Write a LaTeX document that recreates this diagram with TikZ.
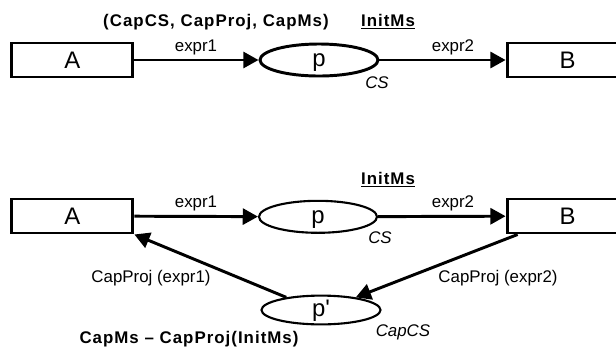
\documentclass[tikz,border=0pt]{standalone}
\usepackage{fontspec}
\setmainfont{Liberation Sans}
\newfontfamily\spacedsans[LetterSpace=6]{Liberation Sans}
\usetikzlibrary{shapes.geometric,arrows.meta}

\tikzset{
  trans/.style={draw, rectangle, line width=2.1pt, minimum width=3.025cm, minimum height=0.85cm, inner sep=0pt, font=\fontsize{17}{17}\selectfont},
  place/.style={draw, ellipse, line width=2.1pt, minimum width=2.95cm, minimum height=0.8cm, inner sep=0pt, text height=9pt, text depth=0pt, font=\fontsize{17}{17}\selectfont},
  lbl/.style={inner sep=0pt, font=\fontsize{12}{14}\selectfont},
  itlbl/.style={inner sep=0pt, font=\fontsize{12}{14}\selectfont\itshape},
  boldlbl/.style={inner sep=0pt, font=\spacedsans\bfseries\fontsize{12}{14}\selectfont},
  arc/.style={-{Triangle[length=0.38cm,width=0.4cm]}, line width=2.1pt},
}

\begin{document}
\begin{tikzpicture}
\useasboundingbox (0,0) rectangle (15.4,-8.675);
% upper net
\node[trans] (A1) at (1.81,-1.5) {A};
\node[place] (p1) at (7.975,-1.5) {p};
\node[trans] (B1) at (14.19,-1.5) {B};
\node[boldlbl] (cap1) at (5.4,-0.55) {(CapCS, CapProj, CapMs)};
\node[boldlbl] (init1) at (9.7,-0.55) {\underline{InitMs}};
\node[lbl] (e11) at (4.9,-1.175) {expr1};
\node[lbl] (e21) at (11.325,-1.175) {expr2};
\node[itlbl] (cs1) at (9.425,-2.075) {CS};
\draw[arc] (A1) -- (p1);
\draw[arc] (p1) -- (B1);
% lower net
\node[trans] (A2) at (1.81,-5.4) {A};
\node[place, line width=1.5pt] (p2) at (7.95,-5.42) {p};
\node[trans] (B2) at (14.19,-5.4) {B};
\node[place, line width=1.5pt, minimum width=2.975cm, minimum height=0.72cm] (p3) at (8.025,-7.75) {p\textquotesingle};
\node[boldlbl] (init2) at (9.7,-4.5) {\underline{InitMs}};
\node[lbl] (e12) at (4.9,-5.075) {expr1};
\node[lbl] (e22) at (11.325,-5.075) {expr2};
\node[itlbl] (cs2) at (9.5,-5.95) {CS};
\node[lbl] (cp1) at (3.775,-6.95) {CapProj (expr1)};
\node[lbl] (cp2) at (12.45,-6.95) {CapProj (expr2)};
\node[itlbl] (capcs) at (10.075,-8.3) {CapCS};
\node[boldlbl] (capms) at (4.725,-8.475) {CapMs – CapProj(InitMs)};
\draw[arc] (A2) -- (p2);
\draw[arc] (p2) -- (B2);
\draw[arc] ([xshift=0.3cm]B2.south west) -- (p3.20);
\draw[arc] (p3.160) -- (A2.south east);
\end{tikzpicture}
\end{document}
